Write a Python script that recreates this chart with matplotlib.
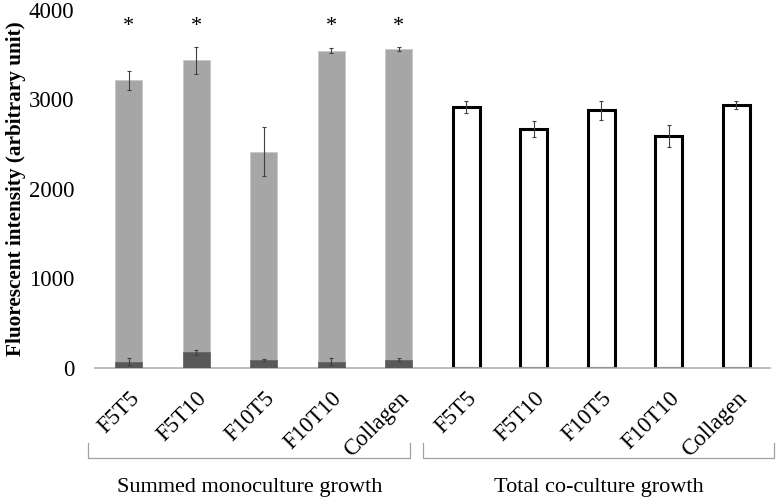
import matplotlib.pyplot as plt
import matplotlib.transforms as mtransforms
import numpy as np

plt.rcParams['font.family'] = ['Liberation Serif', 'DejaVu Serif']

# samples (same order in both groups)
labels = ['F5T5', 'F5T10', 'F10T5', 'F10T10', 'Collagen']
groups = ['Summed monoculture growth', 'Total co-culture growth']

# summed monoculture: dark part (lower) + light part, totals on top
mono_dark = [68, 175, 90, 70, 92]
mono_dark_err = [40, 25, 10, 40, 15]
mono_total = [3215, 3440, 2415, 3545, 3565]
mono_total_err = [105, 150, 275, 25, 25]
signif = [True, True, False, True, True]

# total co-culture
co_total = [2915, 2670, 2880, 2590, 2935]
co_err = [65, 85, 105, 120, 45]

n = len(labels)
x_mono = np.arange(n)
x_co = np.arange(n) + n
mono_light = [t - d for t, d in zip(mono_total, mono_dark)]

fig = plt.figure(figsize=(7.77, 5.04), dpi=100)
ax = fig.add_axes([95 / 777, 136 / 504, 675 / 777, 358 / 504])

w = 0.4
err_kw = dict(ecolor='#404040', elinewidth=0.8, capsize=1.3, capthick=0.8)
ax.bar(x_mono, mono_dark, w, color='#595959', edgecolor='#595959', linewidth=0.5,
       yerr=mono_dark_err, error_kw=err_kw, zorder=3)
ax.bar(x_mono, mono_light, w, bottom=mono_dark, color='#a6a6a6', edgecolor='#c8c8c8',
       linewidth=0.6, yerr=mono_total_err, error_kw=err_kw, zorder=2)
ax.bar(x_co, co_total, w, color='white', edgecolor='black', linewidth=2.2,
       yerr=co_err, error_kw=err_kw, zorder=2)

for xi, s in zip(x_mono, signif):
    if s:
        ax.text(xi, 3820, '*', ha='center', va='center', fontsize=16)

ax.set_ylim(0, 4000)
ax.set_xlim(-0.5, 2 * n - 0.5)
ax.set_yticks([0, 1000, 2000, 3000, 4000])
ax.tick_params(axis='y', length=0, pad=15, labelsize=16.5)
ax.set_xticks(np.arange(2 * n))
ax.set_xticklabels(labels + labels, rotation=45, ha='right', rotation_mode='anchor',
                   fontsize=16.5)
ax.tick_params(axis='x', length=0, pad=14)

for s in ['top', 'right', 'left']:
    ax.spines[s].set_visible(False)
ax.spines['bottom'].set_color('#b0b0b0')
ax.spines['bottom'].set_linewidth(1.2)

ax.set_ylabel('Fluorescent intensity (arbitrary unit)', fontsize=15.3,
              fontweight='bold')
ax.yaxis.set_label_coords(-0.102, 0.5)

# group brackets below the tick labels
trans = mtransforms.blended_transform_factory(ax.transData, ax.transAxes)
brackets = [(-0.6, 4.17), (4.36, 9.56)]
for (x0, x1), g in zip(brackets, groups):
    ax.plot([x0, x0, x1, x1], [-0.21, -0.251, -0.251, -0.21], color='#a0a0a0',
            linewidth=0.9, transform=trans, clip_on=False)
    ax.text((x0 + x1) / 2, -0.335, g, ha='center', va='center', fontsize=16,
            transform=trans)

fig.savefig('out.png', dpi=100)
